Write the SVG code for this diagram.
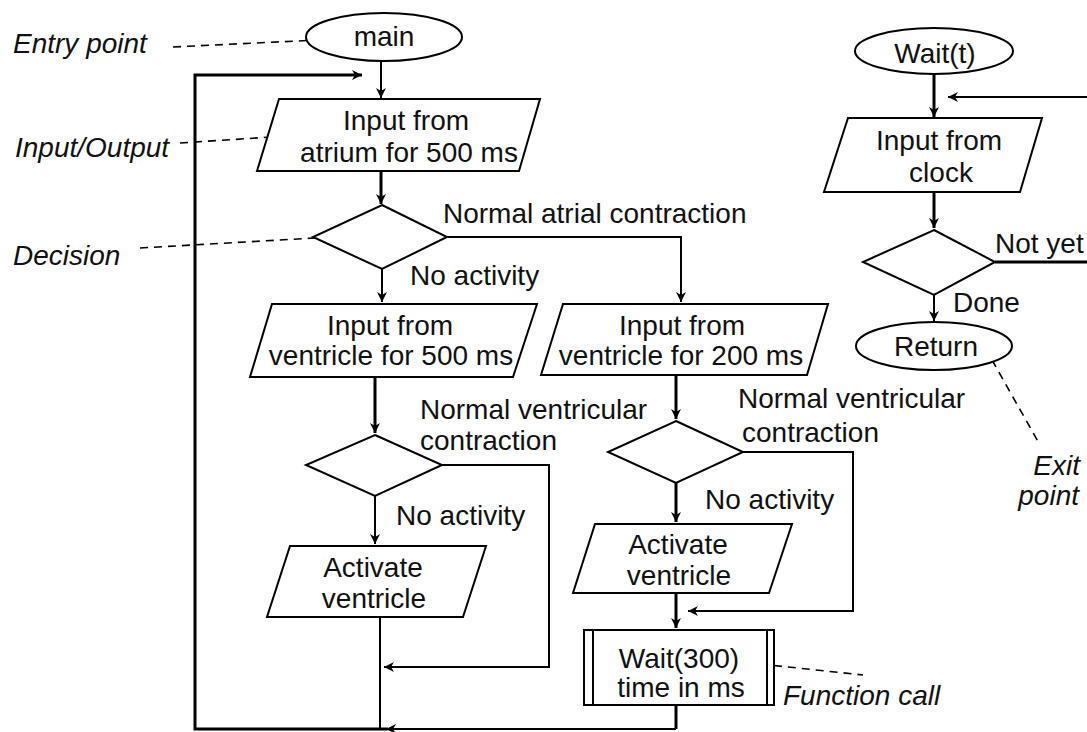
<svg xmlns="http://www.w3.org/2000/svg" width="1087" height="732" viewBox="0 0 1087 732">
<defs>
<marker id="arr" viewBox="0 0 10 10" refX="10" refY="5" markerWidth="10" markerHeight="10" markerUnits="userSpaceOnUse" orient="auto">
<path d="M0,0 L10,5 L0,10 L3,5 Z" fill="#000"/>
</marker>
<style>
.shape{fill:#fff;stroke:#000;stroke-width:2}
.t{font-family:"Liberation Sans",Arial,sans-serif;font-size:28px;fill:#111}
.c{text-anchor:middle}
.i{font-style:italic}
.ln{fill:none;stroke:#000;stroke-width:2}
.thick{fill:none;stroke:#000;stroke-width:3}
.dash{fill:none;stroke:#000;stroke-width:1.6;stroke-dasharray:8 6}
</style>
</defs>
<rect width="1087" height="732" fill="#fff"/>

<g id="connectors">
<line class="ln" x1="381" y1="61" x2="381" y2="98" marker-end="url(#arr)"/>
<polyline class="thick" points="388,729 195,729 195,75 362,75" marker-end="url(#arr)"/>
<line class="thick" x1="676" y1="705" x2="676" y2="729"/>
<line class="ln" x1="676" y1="729" x2="386" y2="729" marker-end="url(#arr)"/>
<line class="thick" x1="381" y1="171" x2="381" y2="204" marker-end="url(#arr)"/>
<polyline class="ln" points="447,237 681,237 681,302" marker-end="url(#arr)"/>
<line class="ln" x1="382" y1="269" x2="382" y2="302" marker-end="url(#arr)"/>
<line class="thick" x1="375" y1="377" x2="375" y2="433" marker-end="url(#arr)"/>
<polyline class="ln" points="442,465 549,465 549,667 384,667" marker-end="url(#arr)"/>
<line class="ln" x1="375" y1="496" x2="375" y2="544" marker-end="url(#arr)"/>
<line class="ln" x1="380" y1="617" x2="380" y2="729"/>
<line class="thick" x1="676" y1="375" x2="676" y2="419" marker-end="url(#arr)"/>
<polyline class="ln" points="743,452 853,452 853,611 688,611" marker-end="url(#arr)"/>
<line class="thick" x1="676" y1="483" x2="676" y2="522" marker-end="url(#arr)"/>
<line class="thick" x1="676" y1="593" x2="676" y2="628" marker-end="url(#arr)"/>
<line class="thick" x1="934" y1="74" x2="934" y2="117" marker-end="url(#arr)"/>
<line class="ln" x1="1087" y1="97" x2="948" y2="97" marker-end="url(#arr)"/>
<line class="thick" x1="934" y1="192" x2="934" y2="228" marker-end="url(#arr)"/>
<line class="thick" x1="995" y1="262" x2="1087" y2="262"/>
<line class="ln" x1="934" y1="295" x2="934" y2="321" marker-end="url(#arr)"/>
</g>

<g id="annotations">
<text class="t i" x="13" y="53">Entry point</text>
<polyline class="dash" points="173,47 318,40"/>
<text class="t i" x="15" y="157">Input/Output</text>
<polyline class="dash" points="180,143 287,136"/>
<text class="t i" x="13" y="265">Decision</text>
<polyline class="dash" points="140,248 332,237"/>
<text class="t i" x="783" y="705">Function call</text>
<polyline class="dash" points="760,664 863,675"/>
<text class="t i" x="1080" y="475" text-anchor="end">Exit</text>
<text class="t i" x="1079" y="505" text-anchor="end">point</text>
<polyline class="dash" points="992,360 1040,445"/>
</g>

<g id="main">
<ellipse class="shape" cx="384" cy="37" rx="78" ry="24"/>
<text class="t c" x="384" y="46">main</text>
</g>

<g id="input-atrium">
<polygon class="shape" points="279,99 540,99 519,171 257,171"/>
<text class="t c" x="406" y="130">Input from</text>
<text class="t c" x="409" y="162">atrium for 500 ms</text>
</g>

<g id="decision-atrial">
<polygon class="shape" points="382,205 447,237 382,269 313,237"/>
</g>
<g id="label-atrial">
<text class="t" x="443" y="223">Normal atrial contraction</text>
<text class="t" x="410" y="285">No activity</text>
</g>

<g id="input-ventricle-500">
<polygon class="shape" points="272,304 537,304 513,377 250,377"/>
<text class="t c" x="390" y="335">Input from</text>
<text class="t c" x="391" y="365">ventricle for 500 ms</text>
</g>

<g id="input-ventricle-200">
<polygon class="shape" points="563,304 828,304 807,375 541,375"/>
<text class="t c" x="682" y="335">Input from</text>
<text class="t c" x="681" y="365">ventricle for 200 ms</text>
</g>

<g id="decision-ventricular-left">
<polygon class="shape" points="375,435 442,465 375,496 306,465"/>
<text class="t" x="420" y="419">Normal ventricular</text>
<text class="t" x="420" y="450">contraction</text>
<text class="t" x="396" y="525">No activity</text>
</g>

<g id="activate-left">
<polygon class="shape" points="290,546 486,546 463,617 267,617"/>
<text class="t c" x="373" y="577">Activate</text>
<text class="t c" x="374" y="608">ventricle</text>
</g>

<g id="decision-ventricular-right">
<polygon class="shape" points="676,421 743,452 676,483 608,452"/>
<text class="t" x="738" y="408">Normal ventricular</text>
<text class="t" x="742" y="442">contraction</text>
<text class="t" x="705" y="509">No activity</text>
</g>

<g id="activate-right">
<polygon class="shape" points="595,524 792,524 769,593 573,593"/>
<text class="t c" x="678" y="554">Activate</text>
<text class="t c" x="679" y="585">ventricle</text>
</g>

<g id="wait-300">
<rect class="shape" x="584" y="630" width="190" height="75"/>
<line class="ln" x1="593" y1="630" x2="593" y2="705"/>
<line class="ln" x1="767" y1="630" x2="767" y2="705"/>
<text class="t c" x="679" y="668">Wait(300)</text>
<text class="t c" x="681" y="697">time in ms</text>
</g>

<g id="wait-t">
<ellipse class="shape" cx="934" cy="51" rx="79" ry="23"/>
<text class="t c" x="935" y="63">Wait(t)</text>
</g>

<g id="input-clock">
<polygon class="shape" points="848,118 1042,118 1020,192 824,192"/>
<text class="t c" x="939" y="150">Input from</text>
<text class="t c" x="941" y="182">clock</text>
</g>

<g id="decision-done">
<polygon class="shape" points="934,230 995,262 934,295 863,262"/>
<text class="t" x="995" y="253">Not yet</text>
<text class="t" x="953" y="312">Done</text>
</g>

<g id="return">
<ellipse class="shape" cx="934" cy="346" rx="78" ry="24"/>
<text class="t c" x="936" y="356">Return</text>
</g>
</svg>
